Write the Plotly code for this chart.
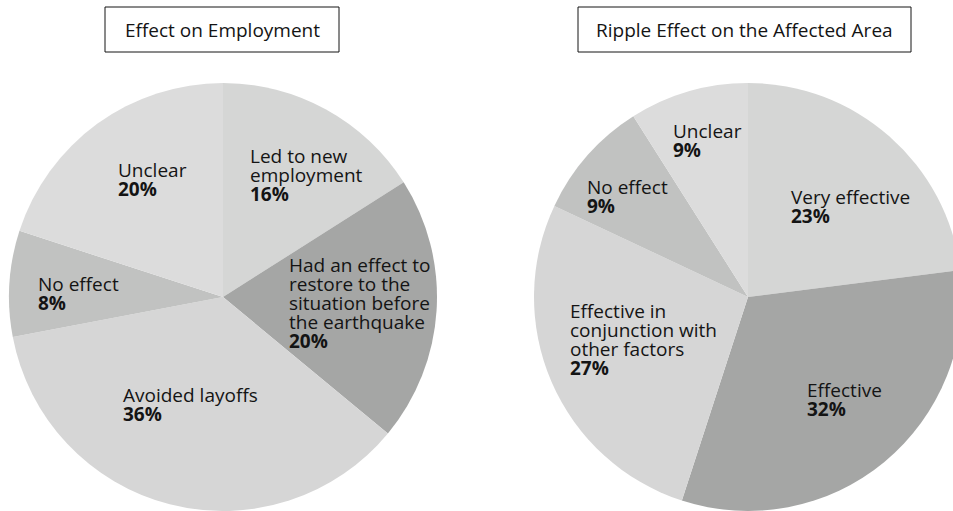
import plotly.graph_objects as go

# ---- data ----
emp_labels = ["Led to new<br>employment", "Had an effect to<br>restore to the<br>situation before<br>the earthquake",
              "Avoided layoffs", "No effect", "Unclear"]
emp_values = [16, 20, 36, 8, 20]
rip_labels = ["Very effective", "Effective", "Effective in<br>conjunction with<br>other factors", "No effect", "Unclear"]
rip_values = [23, 32, 27, 9, 9]
titles = ["Effect on Employment", "Ripple Effect on the Affected Area"]

# ---- styling / layout (pixels) ----
W, H = 962, 511
R = 214
centers = [(223, 297), (748, 297)]
emp_colors = ["#d5d6d5", "#a5a6a5", "#d6d6d6", "#c1c2c1", "#dcdcdc"]
rip_colors = ["#d5d6d5", "#a5a6a5", "#d6d6d6", "#c1c2c1", "#dcdcdc"]
emp_label_off = [(25, -141), (64, -32), (-102, 98), (-187, -13), (-107, -127)]
rip_label_off = [(41, -100), (57, 93), (-180, 14), (-163, -110), (-77, -166)]
title_boxes = [(105, 7, 339, 52), (578, 7, 911, 52)]
FONT = "Open Sans"
FS = 19
LINE = 19

def px(x):
    return x / W

def py(y):
    return 1 - y / H

fig = go.Figure()
for (cx, cy), labels, values, colors in [
    (centers[0], emp_labels, emp_values, emp_colors),
    (centers[1], rip_labels, rip_values, rip_colors),
]:
    fig.add_trace(go.Pie(
        labels=[l.replace("<br>", " ") for l in labels], values=values,
        sort=False, direction="clockwise", rotation=0,
        marker=dict(colors=colors, line=dict(width=0)),
        textinfo="none", hoverinfo="skip", showlegend=False,
        domain=dict(x=[px(cx - R), min(1, px(cx + R))], y=[py(cy + R), py(cy - R)]),
    ))

annotations = []
for (cx, cy), labels, values, offs in [
    (centers[0], emp_labels, emp_values, emp_label_off),
    (centers[1], rip_labels, rip_values, rip_label_off),
]:
    for lab, val, (dx, dy) in zip(labels, values, offs):
        lines = lab.split("<br>") + [f"<b>{val}%</b>"]
        for i, ln in enumerate(lines):
            annotations.append(dict(
                x=px(cx + dx), y=py(cy + dy + i * LINE), xref="paper", yref="paper",
                text=ln, showarrow=False, xanchor="left", yanchor="middle",
                font=dict(family=FONT, size=FS, color="#141414"),
            ))

shapes = []
for (x0, y0, x1, y1), t in zip(title_boxes, titles):
    shapes.append(dict(type="rect", xref="paper", yref="paper",
                       x0=px(x0), x1=px(x1), y0=py(y1), y1=py(y0),
                       line=dict(color="#141414", width=1), fillcolor="white"))
    annotations.append(dict(x=px((x0 + x1) / 2), y=py((y0 + y1) / 2), xref="paper", yref="paper",
                            text=t, showarrow=False, xanchor="center", yanchor="middle",
                            font=dict(family=FONT, size=FS, color="#141414")))

fig.update_layout(
    width=W, height=H, autosize=False,
    margin=dict(l=0, r=0, t=0, b=0),
    paper_bgcolor="white", plot_bgcolor="white",
    annotations=annotations, shapes=shapes,
)

fig.write_html("out.html", config={"displayModeBar": False},
               post_script="document.documentElement.style.overflow='hidden';document.body.style.overflow='hidden';document.body.style.margin='0';")
